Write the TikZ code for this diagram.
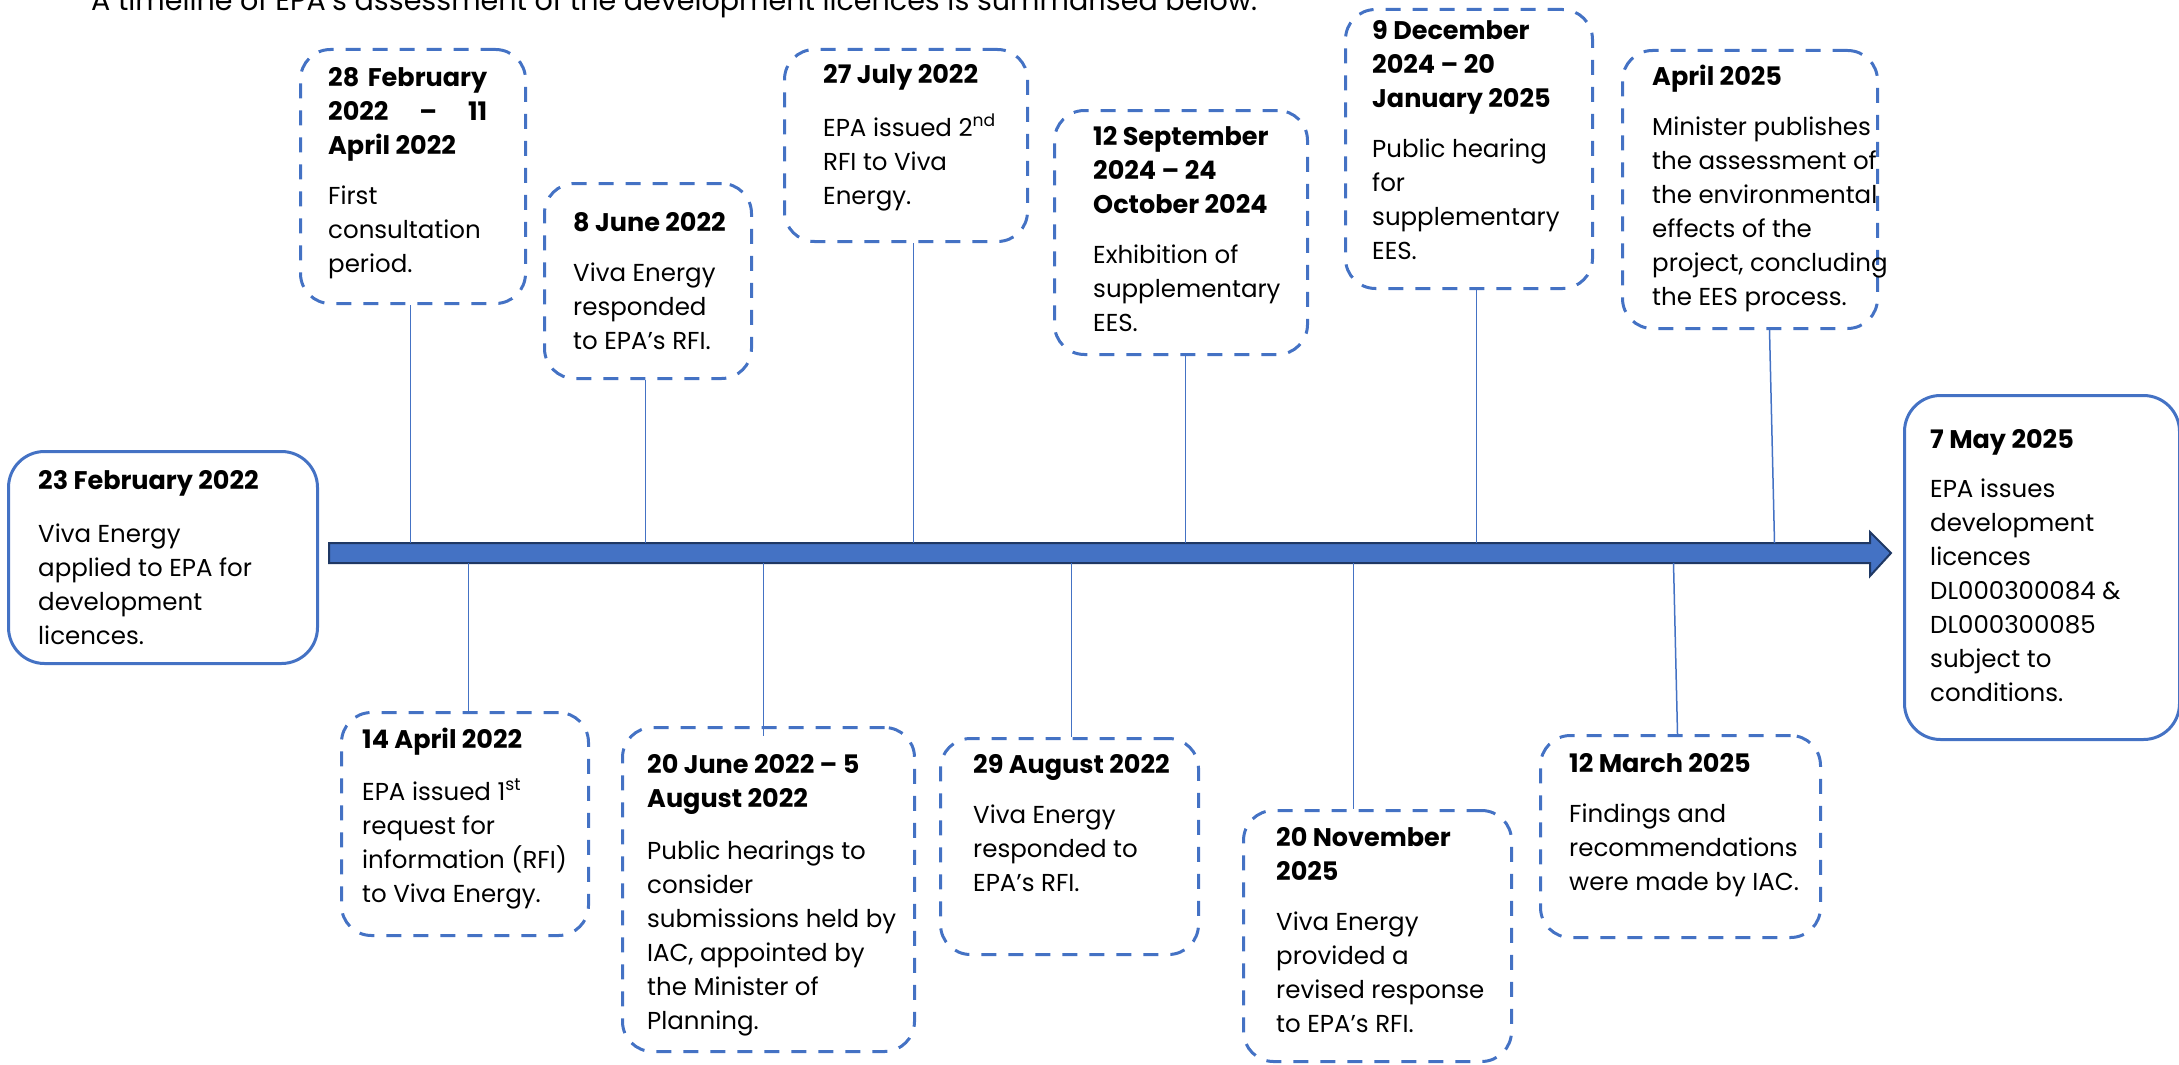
\documentclass[tikz,border=0pt]{standalone}
\usepackage{fontspec}
\usepackage{graphicx}
\setmainfont{Poppins}
\usetikzlibrary{calc}
\definecolor{bl}{HTML}{4472C4}
\definecolor{navy}{HTML}{1F3864}
\newcommand{\hd}[1]{{\fontsize{25.5}{34}\selectfont\bfseries #1}}
\newcommand{\evtxt}[1]{\begin{tabular}[t]{@{}l@{}}#1\end{tabular}}
\begin{document}
\begin{tikzpicture}[x=1pt,y=-1pt,
  evbox/.style={draw=bl, line width=3pt, dash pattern=on 15pt off 12pt, rounded corners=30pt, inner sep=0pt, anchor=north west},
  solidbox/.style={draw=bl, line width=3pt, rounded corners=36pt, inner sep=0pt, anchor=north west},
  txt/.style={anchor=base west, inner sep=0pt, font=\fontsize{24.5}{34}\selectfont},
  conn/.style={draw=bl, line width=1.5pt}]
\useasboundingbox (0,0) rectangle (2179,1065);

% caption
\node[anchor=base west, inner sep=0pt] (cap) at (91,11) {\resizebox{1166pt}{!}{\fontsize{26}{30}\selectfont A timeline of EPA’s assessment of the development licences is summarised below:}};

% timeline arrow
\draw[draw=navy, fill=bl, line width=2pt] (329,543) -- (1870,543) -- (1870,532) -- (1891,553) -- (1870,576) -- (1870,563) -- (329,563) -- cycle;
\coordinate (aN) at (0,543);
\coordinate (aS) at (0,563);

% boxes
\node[solidbox, minimum width=309pt, minimum height=212pt] (b1) at (7,450) {};
\node[evbox, minimum width=225pt, minimum height=254pt] (b2) at (299,48) {};
\node[evbox, minimum width=207pt, minimum height=195pt] (b3) at (543,182) {};
\node[evbox, minimum width=243pt, minimum height=192pt] (b4) at (783,48) {};
\node[evbox, minimum width=253pt, minimum height=244pt] (b5) at (1053,109) {};
\node[evbox, minimum width=247pt, minimum height=279pt] (b6) at (1344,8) {};
\node[evbox, minimum width=255pt, minimum height=278pt] (b7) at (1621,49) {};
\node[solidbox, minimum width=275pt, minimum height=344pt] (b8) at (1903,394) {};
\node[evbox, minimum width=247pt, minimum height=223pt] (b9) at (340,711) {};
\node[evbox, minimum width=292pt, minimum height=324pt] (b10) at (621,726) {};
\node[evbox, minimum width=258pt, minimum height=216pt] (b11) at (939,737) {};
\node[evbox, minimum width=268pt, minimum height=251pt] (b12) at (1242,809) {};
\node[evbox, minimum width=280pt, minimum height=202pt] (b13) at (1539,734) {};

% connectors above the arrow
\draw[conn] ([xshift=-2.5pt]b2.south) -- ([xshift=-2.5pt]b2.south |- aN);
\draw[conn] ([xshift=-2.5pt]b3.south) -- ([xshift=-2.5pt]b3.south |- aN);
\draw[conn] ([xshift=7.5pt]b4.south) -- ([xshift=7.5pt]b4.south |- aN);
\draw[conn] ([xshift=4.5pt]b5.south) -- ([xshift=4.5pt]b5.south |- aN);
\draw[conn] ([xshift=7.5pt]b6.south) -- ([xshift=7.5pt]b6.south |- aN);
\draw[conn] ([xshift=19.5pt]b7.south) -- ([xshift=24.5pt]b7.south |- aN);
% connectors below the arrow
\draw[conn] ([xshift=3.5pt]b9.north |- aS) -- ([xshift=3.5pt]b9.north);
\draw[conn] ([xshift=-5pt]b10.north |- aS) -- ([xshift=-5pt,yshift=-10pt]b10.north);
\draw[conn] ([xshift=2pt]b11.north |- aS) -- ([xshift=2pt]b11.north);
\draw[conn] ([xshift=-24pt]b12.north |- aS) -- ([xshift=-24pt]b12.north);
\draw[conn] ([xshift=-7pt]b13.north |- aS) -- ([xshift=-3pt]b13.north);

% texts
\node[txt] (t1) at (38,489) {\evtxt{\hd{23 February 2022}\\[19pt]Viva Energy\\applied to EPA for\\development\\licences.}};
\node[txt] (t2) at (328,86) {\evtxt{\hd{\makebox[159pt][s]{28 February}}\\\hd{\makebox[159pt][s]{2022 – 11}}\\\hd{April 2022}\\[16pt]First\\consultation\\period.}};
\node[txt] (t3) at (573,231) {\evtxt{\hd{8 June 2022}\\[16pt]Viva Energy\\responded\\to EPA’s RFI.}};
\node[txt] (t4) at (823,84) {\evtxt{\hd{27 July 2022}\\[18pt]EPA issued 2\textsuperscript{nd}\\RFI to Viva\\Energy.}};
\node[txt] (t5) at (1093,145) {\evtxt{\hd{12 September}\\\hd{2024 – 24}\\\hd{October 2024}\\[16pt]Exhibition of\\supplementary\\EES.}};
\node[txt] (t6) at (1372,40) {\evtxt{\hd{9 December}\\\hd{2024 – 20}\\\hd{January 2025}\\[16pt]Public hearing\\for\\supplementary\\EES.}};
\node[txt] (t7) at (1652,85) {\evtxt{\hd{April 2025}\\[16pt]Minister publishes\\the assessment of\\the environmental\\effects of the\\project, concluding\\the EES process.}};
\node[txt] (t8) at (1930,448) {\evtxt{\hd{7 May 2025}\\[15pt]EPA issues\\development\\licences\\DL000300084 \&\\DL000300085\\subject to\\conditions.}};
\node[txt] (t9) at (362,748) {\evtxt{\hd{14 April 2022}\\[18pt]EPA issued 1\textsuperscript{st}\\request for\\information (RFI)\\to Viva Energy.}};
\node[txt] (t10) at (647,773) {\evtxt{\hd{20 June 2022 – 5}\\\hd{August 2022}\\[18pt]Public hearings to\\consider\\submissions held by\\IAC, appointed by\\the Minister of\\Planning.}};
\node[txt] (t11) at (973,773) {\evtxt{\hd{29 August 2022}\\[16pt]Viva Energy\\responded to\\EPA’s RFI.}};
\node[txt] (t12) at (1276,846) {\evtxt{\hd{20 November}\\\hd{2025}\\[16pt]Viva Energy\\provided a\\revised response\\to EPA’s RFI.}};
\node[txt] (t13) at (1569,772) {\evtxt{\hd{12 March 2025}\\[16pt]Findings and\\recommendations\\were made by IAC.}};
\end{tikzpicture}
\end{document}
